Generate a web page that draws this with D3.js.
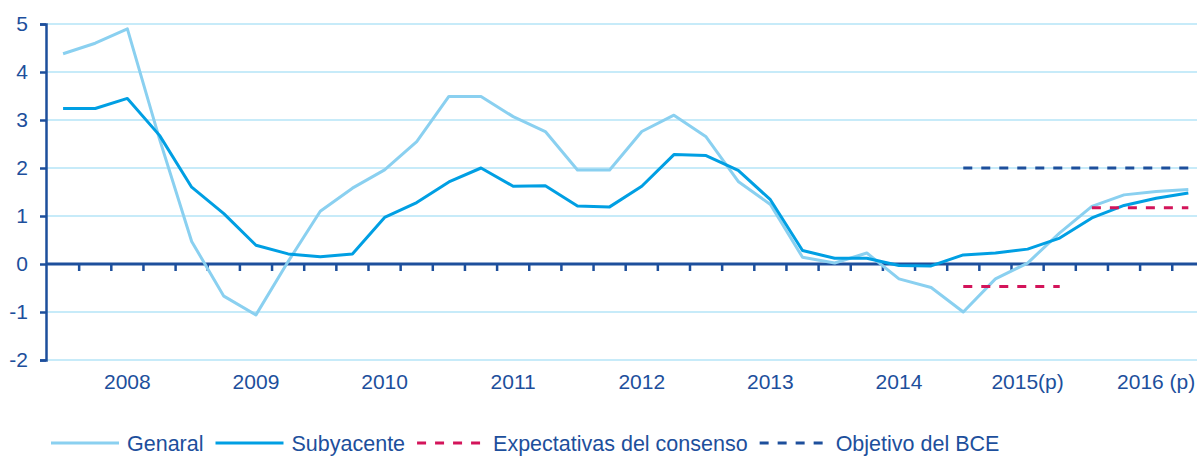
<!DOCTYPE html>
<html>
<head>
<meta charset="utf-8">
<script src="https://cdn.jsdelivr.net/npm/d3@7"></script>
<style>
  body { margin: 0; background: #fff; }
  svg { display: block; font-family: "Liberation Sans", Arial, sans-serif; }
  .axis text { fill: #1d4f9c; font-size: 21px; }
</style>
</head>
<body>
<svg id="chart" width="1197" height="458"></svg>
<script>
const years = ['2008', '2009', '2010', '2011', '2012', '2013', '2014', '2015(p)', '2016 (p)'];
const quarters = ['T1', 'T2', 'T3', 'T4'];

// tasa interanual, trimestral
const general = [4.38, 4.6, 4.9, 2.6, 0.47, -0.67, -1.06, 0.05, 1.1, 1.58, 1.96, 2.55,
  3.49, 3.49, 3.07, 2.76, 1.96, 1.96, 2.76, 3.1, 2.65, 1.72, 1.24, 0.14,
  0.02, 0.23, -0.31, -0.49, -1.0, -0.31, 0.02, 0.65, 1.2, 1.44, 1.51, 1.55];
const subyacente = [3.24, 3.24, 3.45, 2.68, 1.6, 1.05, 0.39, 0.21, 0.15, 0.21, 0.97, 1.28,
  1.71, 2.0, 1.62, 1.63, 1.21, 1.19, 1.62, 2.28, 2.26, 1.95, 1.34, 0.28,
  0.12, 0.12, -0.03, -0.04, 0.19, 0.23, 0.31, 0.54, 0.96, 1.22, 1.37, 1.48];
// previsiones por año: [año, valor]
const consenso = [['2015(p)', -0.47], ['2016 (p)', 1.17]];
const objetivoBCE = [['2015(p)', 2.0], ['2016 (p)', 2.0]];
const yTicks = [-2, -1, 0, 1, 2, 3, 4, 5];

const colors = {
  general: '#8ad0f0',
  subyacente: '#009fe3',
  consenso: '#d3145a',
  bce: '#1d4f9c',
  grid: '#b5e4f7',
  axis: '#1d4f9c'
};

const svg = d3.select('#chart');
const margin = { left: 47, top: 24, bottom: 98 };
const step = 32.15;
const height = 458;

const cats = years.flatMap(y => quarters.map(q => y + '|' + q));

const x = d3.scaleBand()
  .domain(cats)
  .range([margin.left, margin.left + step * cats.length]);

const y = d3.scaleLinear()
  .domain([-2, 5])
  .range([height - margin.bottom, margin.top]);

const mid = d => x(d) + x.bandwidth() / 2;

// grid
svg.append('g')
  .selectAll('line')
  .data(yTicks.filter(d => d !== 0))
  .join('line')
  .attr('x1', margin.left)
  .attr('x2', 1197)
  .attr('y1', d => y(d))
  .attr('y2', d => y(d))
  .attr('stroke', colors.grid)
  .attr('stroke-width', 1.5);

// y axis
const yAxisG = svg.append('g')
  .attr('class', 'axis')
  .attr('transform', `translate(${margin.left - 1},0)`)
  .call(d3.axisLeft(y)
    .tickValues(yTicks)
    .tickFormat(d => String(d))
    .tickSize(6)
    .tickSizeOuter(6)
    .tickPadding(12));
yAxisG.select('.domain').attr('stroke', colors.axis).attr('stroke-width', 2.5);
yAxisG.selectAll('.tick line').attr('stroke', colors.axis).attr('stroke-width', 2.5);

// zero line with quarter ticks
const zeroG = svg.append('g');
zeroG.append('line')
  .attr('x1', margin.left - 1)
  .attr('x2', 1197)
  .attr('y1', y(0))
  .attr('y2', y(0))
  .attr('stroke', colors.axis)
  .attr('stroke-width', 3);
zeroG.selectAll('.qt')
  .data(cats.slice(1))
  .join('line')
  .attr('class', 'qt')
  .attr('x1', d => x(d))
  .attr('x2', d => x(d))
  .attr('y1', y(0))
  .attr('y2', y(0) + 7)
  .attr('stroke', colors.axis)
  .attr('stroke-width', 2.5);

// year labels (centred on the third quarter of each year)
const xAxisG = svg.append('g')
  .attr('class', 'axis')
  .attr('transform', `translate(0,${y(-2) + 14})`)
  .call(d3.axisBottom(x)
    .tickValues(years.map(yr => yr + '|T3'))
    .tickFormat(d => d.split('|')[0])
    .tickSize(0)
    .tickPadding(0));
xAxisG.select('.domain').remove();

const line = d3.line()
  .x((d, i) => mid(cats[i]))
  .y(d => y(d));

svg.append('path')
  .datum(general)
  .attr('fill', 'none')
  .attr('stroke', colors.general)
  .attr('stroke-width', 3)
  .attr('stroke-linejoin', 'round')
  .attr('d', line);

svg.append('path')
  .datum(subyacente)
  .attr('fill', 'none')
  .attr('stroke', colors.subyacente)
  .attr('stroke-width', 3)
  .attr('stroke-linejoin', 'round')
  .attr('d', line);

// BCE objective: one continuous run over the forecast years
svg.append('line')
  .attr('x1', mid(objetivoBCE[0][0] + '|T1'))
  .attr('x2', mid(objetivoBCE[objetivoBCE.length - 1][0] + '|T4'))
  .attr('y1', y(objetivoBCE[0][1]))
  .attr('y2', y(objetivoBCE[0][1]))
  .attr('stroke', colors.bce)
  .attr('stroke-width', 3)
  .attr('stroke-dasharray', '9 9');

// consensus, first to last quarter of each year
svg.append('g')
  .selectAll('line')
  .data(consenso)
  .join('line')
  .attr('x1', d => mid(d[0] + '|T1'))
  .attr('x2', d => mid(d[0] + '|T4'))
  .attr('y1', d => y(d[1]))
  .attr('y2', d => y(d[1]))
  .attr('stroke', colors.consenso)
  .attr('stroke-width', 3)
  .attr('stroke-dasharray', '9 9');

// legend
const legendItems = [
  { label: 'Genaral', color: colors.general, dash: null },
  { label: 'Subyacente', color: colors.subyacente, dash: null },
  { label: 'Expectativas del consenso', color: colors.consenso, dash: '9 9' },
  { label: 'Objetivo del BCE', color: colors.bce, dash: '9 9' }
];
const legend = svg.append('g').attr('transform', 'translate(51,443)');
let lx = 0;
legendItems.forEach(item => {
  const g = legend.append('g').attr('transform', `translate(${lx},0)`);
  g.append('line')
    .attr('x1', 0).attr('x2', 68)
    .attr('stroke', item.color)
    .attr('stroke-width', 3)
    .attr('stroke-dasharray', item.dash);
  const t = g.append('text')
    .attr('x', 76)
    .attr('dy', '0.35em')
    .attr('fill', colors.axis)
    .style('font-size', '21.5px')
    .text(item.label);
  lx += 76 + t.node().getComputedTextLength() + 12;
});
</script>
</body>
</html>
